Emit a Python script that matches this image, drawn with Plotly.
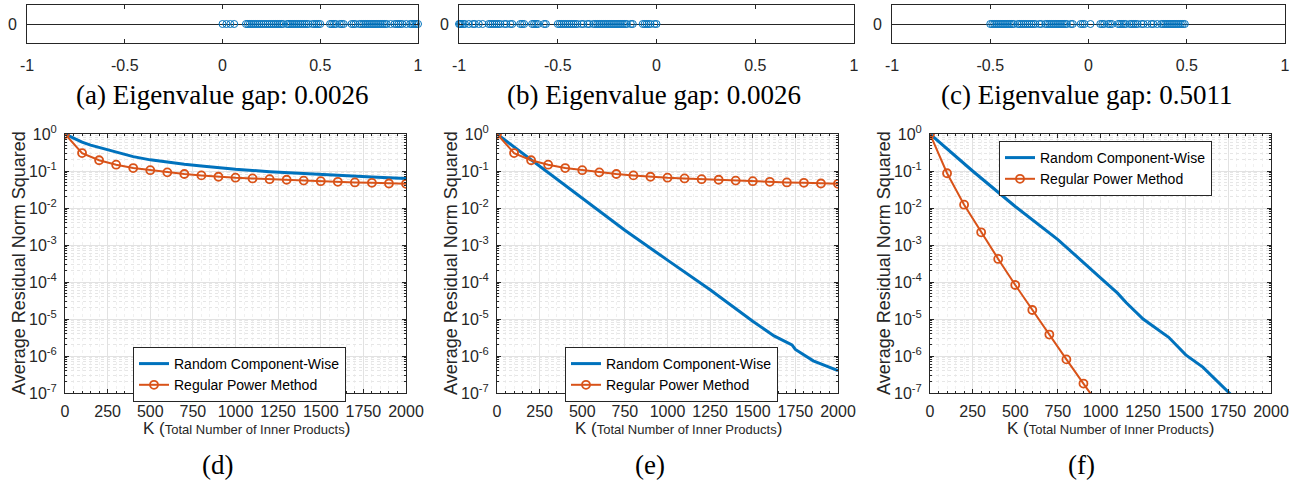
import plotly.graph_objects as go

W, H = 1296, 481

# ---- data ----
eig_a = [0.0, 0.02, 0.04, 0.06, 0.12, 0.13, 0.14, 0.15, 0.16, 0.17, 0.18, 0.19, 0.20, 0.21,
         0.22, 0.23, 0.24, 0.25, 0.26, 0.27, 0.28, 0.29, 0.30, 0.31, 0.33, 0.34, 0.35, 0.36,
         0.37, 0.38, 0.39, 0.40, 0.41, 0.42, 0.43, 0.44, 0.46, 0.47, 0.48, 0.49, 0.50, 0.55,
         0.56, 0.57, 0.58, 0.60, 0.61, 0.62, 0.66, 0.67, 0.68, 0.70, 0.71, 0.72, 0.73, 0.74,
         0.75, 0.76, 0.77, 0.78, 0.79, 0.80, 0.81, 0.82, 0.83, 0.84, 0.86, 0.88, 0.89, 0.90,
         0.91, 0.92, 0.94, 0.96, 0.97, 0.98, 0.99, 1.0]
eig_b = [-1.0, -0.995, -0.99, -0.98, -0.97, -0.95, -0.93, -0.92, -0.90, -0.88, -0.85, -0.84,
         -0.83, -0.82, -0.81, -0.80, -0.79, -0.77, -0.76, -0.74, -0.73, -0.69, -0.68, -0.67,
         -0.63, -0.62, -0.61, -0.60, -0.57, -0.56, -0.50, -0.49, -0.48, -0.47, -0.46, -0.45,
         -0.44, -0.43, -0.42, -0.41, -0.40, -0.38, -0.37, -0.35, -0.34, -0.32, -0.31, -0.30,
         -0.29, -0.28, -0.27, -0.26, -0.25, -0.24, -0.23, -0.22, -0.21, -0.20, -0.19, -0.18,
         -0.17, -0.16, -0.15, -0.13, -0.12, -0.07, -0.06, -0.05, -0.04, -0.03, -0.01, 0.0]
eig_c = [-0.50, -0.49, -0.48, -0.47, -0.46, -0.45, -0.44, -0.43, -0.42, -0.41, -0.40, -0.39,
         -0.38, -0.36, -0.35, -0.34, -0.33, -0.32, -0.31, -0.30, -0.29, -0.28, -0.27, -0.25,
         -0.24, -0.22, -0.21, -0.20, -0.19, -0.18, -0.17, -0.16, -0.15, -0.14, -0.13, -0.12,
         -0.11, -0.09, -0.08, -0.04, -0.03, -0.02, 0.01, 0.06, 0.07, 0.08, 0.10, 0.11, 0.12,
         0.15, 0.16, 0.17, 0.18, 0.19, 0.21, 0.22, 0.23, 0.24, 0.25, 0.27, 0.28, 0.30, 0.32,
         0.33, 0.35, 0.37, 0.38, 0.39, 0.40, 0.41, 0.42, 0.43, 0.44, 0.45, 0.46, 0.47, 0.48,
         0.49]
captions_top = ["(a) Eigenvalue gap: 0.0026", "(b) Eigenvalue gap: 0.0026", "(c) Eigenvalue gap: 0.5011"]
captions_bottom = ["(d)", "(e)", "(f)"]

# regular power method, sampled every 100 inner products
k_rpm = [0, 100, 200, 300, 400, 500, 600, 700, 800, 900, 1000,
         1100, 1200, 1300, 1400, 1500, 1600, 1700, 1800, 1900, 2000]
rpm_slow = [1.0, 0.305, 0.195, 0.148, 0.12, 0.105, 0.092, 0.083, 0.076, 0.070, 0.066,
            0.063, 0.060, 0.058, 0.055, 0.053, 0.051, 0.049, 0.048, 0.046, 0.045]
k_rpm_f = [0, 100, 200, 300, 400, 500, 600, 700, 800, 900, 1000]
rpm_fast = [1.0, 0.087, 0.0123, 0.0022, 4.2e-4, 8.3e-5, 1.75e-5, 3.8e-6, 8.1e-7, 1.8e-7, 4.0e-8]

# random component-wise
k_rcw_d = [0, 50, 100, 150, 200, 250, 300, 400, 500, 600, 700, 800, 900, 1000,
           1200, 1400, 1600, 1800, 2000]
rcw_d = [1.0, 0.76, 0.60, 0.50, 0.43, 0.37, 0.32, 0.245, 0.20, 0.172, 0.152, 0.136, 0.122,
         0.111, 0.096, 0.085, 0.076, 0.069, 0.063]
k_rcw_e = [0, 250, 500, 750, 1000, 1250, 1500, 1625, 1730, 1750, 1855, 2000]
rcw_e = [1.0, 1.38e-1, 1.9e-2, 2.5e-3, 3.9e-4, 6.2e-5, 8.7e-6, 3.5e-6, 2.0e-6, 1.5e-6,
         7.4e-7, 4.0e-7]
k_rcw_f = [0, 100, 250, 500, 750, 1000, 1100, 1150, 1250, 1400, 1500, 1600, 1750, 1800]
rcw_f = [1.0, 0.40, 0.10, 1.1e-2, 1.4e-3, 1.3e-4, 5.0e-5, 2.8e-5, 1.0e-5, 3.2e-6, 1.07e-6,
         5.0e-7, 1.0e-7, 6.3e-8]

BLUE = '#0072BD'
ORANGE = '#D95319'
AX = '#262626'
SANS = 'Liberation Sans, Arial, sans-serif'
SERIF = 'Liberation Serif, Times New Roman, serif'


# window pixel -> paper fraction
def fx(px):
    return px / W


def fy(py):
    return 1 - py / H


fig = go.Figure()

# ---- top row: eigenvalue strips ----
top_x = [(27, 418), (459, 854), (892, 1285)]
for i, eig in enumerate([eig_a, eig_b, eig_c]):
    n = i + 1
    fig.add_trace(go.Scatter(
        x=eig, y=[0] * len(eig), mode='markers',
        marker=dict(symbol='circle-open', size=7, color=BLUE, line=dict(width=1, color=BLUE)),
        cliponaxis=False, showlegend=False,
        xaxis='x' if n == 1 else f'x{n}', yaxis='y' if n == 1 else f'y{n}'))
    xa = dict(domain=[fx(top_x[i][0]), fx(top_x[i][1])], range=[-1, 1],
              anchor='y' if n == 1 else f'y{n}',
              tickvals=[-1, -0.5, 0, 0.5, 1], ticktext=['-1', '-0.5', '0', '0.5', '1'],
              ticks='inside', ticklen=4, tickcolor=AX, showline=True, linecolor=AX,
              linewidth=1, mirror='ticks', showgrid=False, zeroline=False, automargin=False,
              tickfont=dict(family=SANS, size=16, color=AX), ticklabelstandoff=8)
    ya = dict(domain=[fy(43), fy(5)], range=[-1, 1], anchor='x' if n == 1 else f'x{n}',
              tickvals=[0], ticktext=['0'], ticks='inside', ticklen=4, tickcolor=AX,
              showline=True, linecolor=AX, linewidth=1, mirror='ticks', showgrid=False,
              zeroline=True, zerolinecolor=AX, zerolinewidth=1, automargin=False,
              tickfont=dict(family=SANS, size=16, color=AX), ticklabelstandoff=6)
    fig.update_layout({('xaxis' if n == 1 else f'xaxis{n}'): xa,
                       ('yaxis' if n == 1 else f'yaxis{n}'): ya})
    fig.add_annotation(text=captions_top[i], xref='paper', yref='paper',
                       x=fx([222, 654, 1086][i]), y=fy(95), showarrow=False,
                       xanchor='center', yanchor='middle',
                       font=dict(family=SERIF, size=27, color='black'))

# ---- bottom row: convergence plots ----
bottom_x = [(65, 406), (497, 838), (930, 1271)]
rcw_sets = [(k_rcw_d, rcw_d), (k_rcw_e, rcw_e), (k_rcw_f, rcw_f)]
rpm_sets = [(k_rpm, rpm_slow), (k_rpm, rpm_slow), (k_rpm_f, rpm_fast)]
legend_pos = [(133, 347), (565, 347), (999, 141)]
legend_names = ['legend', 'legend2', 'legend3']

ytick_vals = [1e-7, 1e-6, 1e-5, 1e-4, 1e-3, 1e-2, 1e-1, 1]
ytick_text = [f'10<sup>{e}</sup>' for e in [-7, -6, -5, -4, -3, -2, -1, 0]]
minor_vals = [m * 10.0 ** e for e in range(-7, 0) for m in range(2, 10)]

for i in range(3):
    n = i + 4
    xr, yr = f'x{n}', f'y{n}'
    lg = legend_names[i]
    fig.add_trace(go.Scatter(
        x=rcw_sets[i][0], y=rcw_sets[i][1], mode='lines', name='Random Component-Wise',
        line=dict(color=BLUE, width=3), xaxis=xr, yaxis=yr, legend=lg))
    fig.add_trace(go.Scatter(
        x=rpm_sets[i][0], y=rpm_sets[i][1], mode='lines+markers', name='Regular Power Method',
        line=dict(color=ORANGE, width=2),
        marker=dict(symbol='circle-open', size=8, color=ORANGE, line=dict(width=1.8, color=ORANGE)),
        xaxis=xr, yaxis=yr, legend=lg))

    xa = dict(domain=[fx(bottom_x[i][0]), fx(bottom_x[i][1])], range=[0, 2000], anchor=yr,
              tickvals=[0, 250, 500, 750, 1000, 1250, 1500, 1750, 2000],
              ticks='inside', ticklen=4, tickcolor=AX, showline=True, linecolor=AX,
              linewidth=1, mirror='ticks', showgrid=True, gridcolor='#e2e2e2', gridwidth=1,
              zeroline=False, automargin=False, tickfont=dict(family=SANS, size=16, color=AX),
              ticklabelstandoff=4,
              minor=dict(dtick=50, showgrid=True, gridcolor='#f0f0f0', griddash='dot',
                         ticks='inside', ticklen=2, tickcolor=AX))
    ya = dict(domain=[fy(393), fy(134)], type='log', range=[-7, 0], anchor=xr,
              tickvals=ytick_vals, ticktext=ytick_text,
              ticks='inside', ticklen=4, tickcolor=AX, showline=True, linecolor=AX,
              linewidth=1, mirror='ticks', showgrid=True, gridcolor='#e2e2e2', gridwidth=1,
              zeroline=False, automargin=False, tickfont=dict(family=SANS, size=16, color=AX),
              ticklabelstandoff=4,
              minor=dict(tickmode='array', tickvals=minor_vals, showgrid=True,
                         gridcolor='#e6e6e6', griddash='dot', ticks='inside', ticklen=2,
                         tickcolor=AX))
    lx, ly = legend_pos[i]
    fig.update_layout({
        f'xaxis{n}': xa, f'yaxis{n}': ya,
        lg: dict(x=fx(lx), y=fy(ly), xanchor='left', yanchor='top',
                 bgcolor='white', bordercolor=AX, borderwidth=1,
                 font=dict(family=SANS, size=14, color='black'),
                 tracegroupgap=0, itemwidth=30),
    })

    cx = bottom_x[i][0] - 65
    fig.add_annotation(text='Average Residual Norm Squared', xref='paper', yref='paper',
                       x=fx(19 + cx), y=fy(263), textangle=-90, showarrow=False,
                       xanchor='center', yanchor='middle',
                       font=dict(family=SANS, size=18, color=AX))
    fig.add_annotation(text="K (<span style='font-size:13px'>Total Number of Inner Products</span>)",
                       xref='paper', yref='paper', x=fx([246.7, 678.7, 1110.7][i]),
                       y=fy(428), showarrow=False, xanchor='center', yanchor='middle',
                       font=dict(family=SANS, size=17, color=AX))
    fig.add_annotation(text=captions_bottom[i], xref='paper', yref='paper',
                       x=fx([217, 650, 1081][i]), y=fy(465), showarrow=False,
                       xanchor='center', yanchor='middle',
                       font=dict(family=SERIF, size=27, color='black'))

fig.update_layout(
    width=W, height=H,
    margin=dict(l=0, r=0, t=0, b=0),
    paper_bgcolor='white', plot_bgcolor='white',
    showlegend=True,
)

# drop the default page margin so the figure sits at the window's top-left corner
fig.write_html("out.html", config={'displayModeBar': False},
               post_script="document.body.style.margin='0';document.body.style.overflow='hidden';")
